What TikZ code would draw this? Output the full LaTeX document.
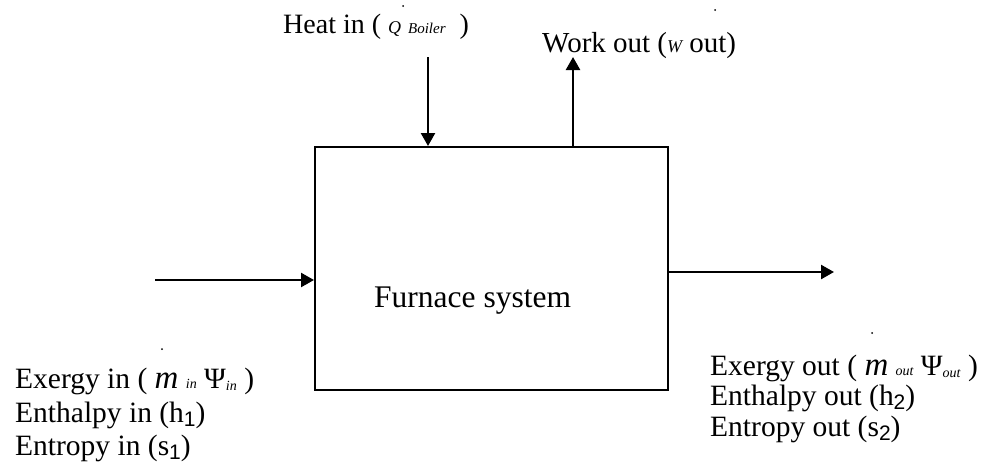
\documentclass[tikz,border=0pt]{standalone}
\usepackage{fontspec}
\setmainfont{Liberation Serif}
\newfontfamily\digitfont{Liberation Sans}
\usetikzlibrary{arrows.meta}
\tikzset{
  arr/.style={line width=2.4pt,-{Triangle[length=13pt,width=14pt]}},
  boxstyle/.style={draw,line width=2pt,rectangle,minimum width=353pt,minimum height=243pt,inner sep=0pt},
  sidelbl/.style={inner sep=0pt,anchor=base west,font=\fontsize{29.5}{32}\selectfont},
  toplbl/.style={inner sep=0pt,anchor=base west,font=\fontsize{28}{32}\selectfont},
  dotmark/.style={circle,fill=black,inner sep=0pt,minimum size=2pt}
}
\newcommand{\smalli}[1]{{\fontsize{14}{14}\selectfont\itshape #1}}
\newcommand{\subd}[1]{\raisebox{-4pt}{\digitfont\fontsize{21}{21}\selectfont #1}}
\newcommand{\massm}{{\fontsize{33}{33}\selectfont\itshape m}}
\begin{document}
\begin{tikzpicture}[x=1pt,y=-1pt]
\useasboundingbox (0,0) rectangle (992,464);
% system box
\node[boxstyle] (box) at (491.5,268.5) {};
\node[inner sep=0pt,anchor=base west,font=\fontsize{31.5}{34}\selectfont] (furnace) at (374,307) {Furnace system};
% heat in
\node[toplbl] (heat) at (283,33) {Heat in ( {\fontsize{18}{18}\selectfont\itshape Q} {\fontsize{15}{15}\selectfont\itshape Boiler}\ \ )};
\node[dotmark] (qdot) at (403,6) {};
\coordinate (qtop) at (428,57);
\draw[arr] (qtop) -- (qtop |- box.north);
% work out
\node[toplbl,font=\fontsize{29}{32}\selectfont] (work) at (542,52) {Work out ({\fontsize{18}{18}\selectfont\itshape W} out)};
\node[dotmark] (wdot) at (715,10) {};
\coordinate (wtop) at (573,57);
\draw[arr] (wtop |- box.north) -- (wtop);
% inlet
\coordinate (inl) at (155,280);
\draw[arr] (inl) -- (inl -| box.west);
\node[dotmark] (mindot) at (162,349) {};
\node[sidelbl] (in1) at (15,388) {Exergy in ( \massm\ \smalli{in} Ψ\raisebox{-2pt}{\smalli{in}} )};
\node[sidelbl] (in2) at (15,422) {Enthalpy in (h\subd{1})};
\node[sidelbl] (in3) at (15,455) {Entropy in (s\subd{1})};
% outlet
\coordinate (outr) at (834,272);
\draw[arr] (outr -| box.east) -- (outr);
\node[dotmark] (moutdot) at (872,333) {};
\node[sidelbl] (out1) at (710,375) {Exergy out ( \massm\ \smalli{out} Ψ\raisebox{-2pt}{\smalli{out}} )};
\node[sidelbl] (out2) at (710,405) {Enthalpy out (h\subd{2})};
\node[sidelbl] (out3) at (710,436) {Entropy out (s\subd{2})};
\end{tikzpicture}
\end{document}
